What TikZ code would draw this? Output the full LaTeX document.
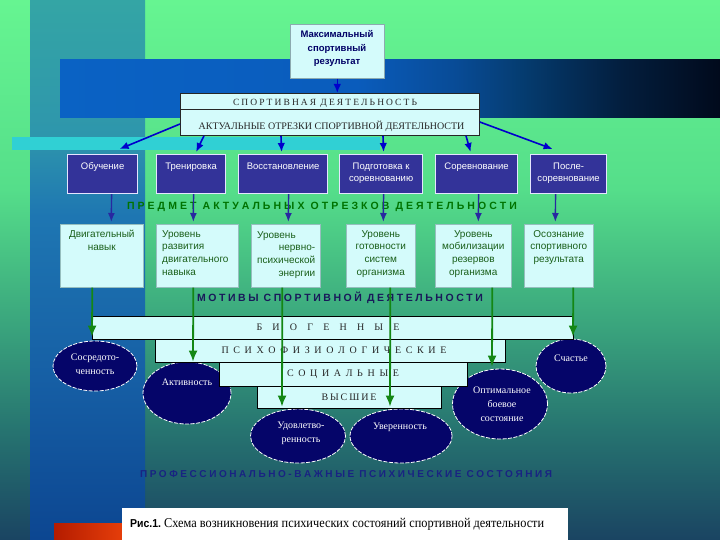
\documentclass[tikz,border=0pt]{standalone}
\usepackage{fontspec}
\usepackage{graphicx}
\setmainfont{Liberation Serif}
\newfontfamily\arial{Liberation Sans}
\usetikzlibrary{arrows.meta,shapes.geometric,calc}

\definecolor{bgA}{RGB}{102,245,145}
\definecolor{bgB}{RGB}{85,222,138}
\definecolor{bgC}{RGB}{58,165,125}
\definecolor{bgD}{RGB}{38,115,112}
\definecolor{bgE}{RGB}{26,68,98}
\definecolor{bnA}{RGB}{52,165,165}
\definecolor{bnB}{RGB}{46,150,172}
\definecolor{bnC}{RGB}{30,118,178}
\definecolor{bnD}{RGB}{22,95,165}
\definecolor{bnE}{RGB}{12,70,145}
\definecolor{brA}{RGB}{10,98,196}
\definecolor{brB}{RGB}{10,92,188}
\definecolor{brC}{RGB}{8,75,150}
\definecolor{brD}{RGB}{5,60,112}
\definecolor{brE}{RGB}{3,30,62}
\definecolor{brF}{RGB}{1,10,28}
\definecolor{cyanstrip}{RGB}{48,208,212}
\definecolor{lcyan}{RGB}{212,251,251}
\definecolor{bluebox}{RGB}{51,51,153}
\definecolor{navyell}{RGB}{5,5,105}
\definecolor{dgreen}{RGB}{25,95,25}
\definecolor{navytext}{RGB}{0,0,102}
\definecolor{arrblue}{RGB}{0,0,204}
\definecolor{arrnavy}{RGB}{40,40,160}
\definecolor{arrgreen}{RGB}{20,135,20}
\definecolor{grntext}{RGB}{0,115,0}
\definecolor{mottext}{RGB}{25,25,90}
\definecolor{proftext}{RGB}{25,35,130}
\definecolor{redA}{RGB}{180,28,0}
\definecolor{redB}{RGB}{230,62,10}

\pgfdeclareverticalshading{bgsh}{100bp}{color(0bp)=(bgE); color(25bp)=(bgE); color(35bp)=(bgD); color(45bp)=(bgC); color(57.5bp)=(bgB); color(75bp)=(bgA); color(100bp)=(bgA)}
\pgfdeclareverticalshading{bandsh}{100bp}{color(0bp)=(bnE); color(25bp)=(bnE); color(40bp)=(bnD); color(55bp)=(bnC); color(62.5bp)=(bnB); color(75bp)=(bnA); color(100bp)=(bnA)}
\pgfdeclarehorizontalshading{barsh}{100bp}{color(0bp)=(brA); color(25bp)=(brA); color(47.5bp)=(brB); color(55bp)=(brC); color(60bp)=(brD); color(67.5bp)=(brE); color(75bp)=(brF); color(100bp)=(brF)}

\tikzset{
  topbox/.style={draw={rgb,255:red,140;green,170;blue,175}, line width=0.6pt, fill=lcyan, inner sep=0pt, anchor=north west},
  bigbox/.style={draw=black!85, line width=0.8pt, fill=lcyan, inner sep=0pt, anchor=north west},
  bbox/.style={draw=white!90!blue, line width=1.2pt, fill=bluebox, inner sep=0pt, anchor=north west, minimum height=39pt},
  lbox/.style={draw={rgb,255:red,150;green,190;blue,190}, line width=0.6pt, fill=lcyan, inner sep=0pt, anchor=north west, minimum height=63pt},
  sbox/.style={draw=black, line width=0.8pt, fill=lcyan, inner sep=0pt, anchor=north west},
  ell/.style={ellipse, draw=white, dashed, dash pattern=on 4pt off 1.5pt, line width=0.8pt, fill=navyell, inner sep=0pt},
  toptext/.style={text=navytext, font=\arial\bfseries\fontsize{9.5}{13.5}\selectfont, align=center, inner sep=0pt},
  btext/.style={text=white, font=\arial\fontsize{9.5}{12.5}\selectfont, align=center, inner sep=0pt, anchor=north},
  ltext/.style={text=dgreen, font=\arial\fontsize{10}{12.7}\selectfont, align=center, inner sep=0pt, anchor=north},
  etext/.style={text=white, font=\fontsize{10}{14}\selectfont, align=center, inner sep=0pt},
  stext/.style={text=black!85, font=\fontsize{10}{11}\selectfont, inner sep=0pt},
  hdtext/.style={font=\arial\bfseries\fontsize{10.5}{12}\selectfont, inner sep=0pt},
  barrow/.style={draw=arrblue, line width=1.6pt, -{Latex[length=9pt,width=7.5pt]}},
  narrow/.style={draw=arrnavy, line width=1.4pt, -{Latex[length=9pt,width=7pt]}},
  garrow/.style={draw=arrgreen, line width=1.8pt, -{Latex[length=11pt,width=9pt]}}
}

\begin{document}
\begin{tikzpicture}[x=1pt,y=-1pt]
\useasboundingbox (0,0) rectangle (720,540);
% background
\shade[shading=bgsh] (0,0) rectangle (720,540);
\shade[shading=bandsh] (30,0) rectangle (145,540);
\shade[shading=barsh] (60,60) rectangle (720,118);
\fill[cyanstrip] (12,137) rectangle (380,150);
\shade[left color=redA, right color=redB] (54,523) rectangle (123,540);
\fill[white] (122,508) rectangle (568,540);
\node[anchor=base west, inner sep=0pt] (capt) at (130,527) {\resizebox{414pt}{\height}{{\arial\bfseries\fontsize{11.5}{13}\selectfont Рис.1.} {\fontsize{13.5}{15}\selectfont Схема возникновения психических состояний спортивной деятельности}}};

% top
\node[topbox, minimum width=94pt, minimum height=54pt] (res) at (290,24) {};
\node[toptext] (rest) at (337,48.5) {Максимальный\\спортивный\\результат};
\node[bigbox, minimum width=299pt, minimum height=42pt] (act) at (180,93) {};
\draw[black!85, line width=0.8pt] ($(act.north west)+(0,16)$) -- ($(act.north east)+(0,16)$);
\node[stext, font=\fontsize{9.5}{11}\selectfont] (actt1) at (325,103) {\makebox[184pt][s]{С П О Р Т И В Н А Я~ Д Е Я Т Е Л Ь Н О С Т Ь}};
\node[stext, font=\fontsize{10}{11}\selectfont] (actt2) at (331.5,126) {АКТУАЛЬНЫЕ ОТРЕЗКИ СПОРТИВНОЙ ДЕЯТЕЛЬНОСТИ};
\draw[barrow] (res.south) -- (res.south |- act.north);

% blue boxes
\node[bbox, minimum width=70pt] (b1) at (67,154) {};
\node[bbox, minimum width=69pt] (b2) at (156,154) {};
\node[bbox, minimum width=89pt] (b3) at (238,154) {};
\node[bbox, minimum width=83pt] (b4) at (339,154) {};
\node[bbox, minimum width=82pt] (b5) at (435,154) {};
\node[bbox, minimum width=76pt] (b6) at (530,154) {};
\node[btext] (b1t) at ($(b1.north)+(0,8.5)$) {Обучение};
\node[btext] (b2t) at ($(b2.north)+(0,8.5)$) {Тренировка};
\node[btext] (b3t) at ($(b3.north)+(0,8.5)$) {Восстановление};
\node[btext] (b4t) at ($(b4.north)+(0,8.5)$) {Подготовка к\\соревнованию};
\node[btext] (b5t) at ($(b5.north)+(0,8.5)$) {Соревнование};
\node[btext] (b6t) at ($(b6.north)+(0,8.5)$) {После-\\соревнование};

% arrows from activity box
\draw[barrow] ($(act.north west)+(0,31)$) -- ($(b1.north)+(17,-5)$);
\draw[barrow] ($(act.south west)+(24,0)$) -- ($(b2.north)+(5,-2)$);
\draw[barrow] ($(act.south west)+(101,0)$) -- ($(b3.north)+(-1.5,-2)$);
\draw[barrow] ($(act.south west)+(203,0)$) -- ($(b4.north)+(2.5,-2)$);
\draw[barrow] ($(act.south west)+(286,0)$) -- ($(b5.north)+(-6,-2)$);
\draw[barrow] ($(act.north east)+(0,29)$) -- ($(b6.north)+(-16,-5)$);

% subject label
\node[hdtext, text=grntext] (subj) at (322,207) {\makebox[390pt][s]{П Р Е Д М Е Т~ А К Т У А Л Ь Н Ы Х~ О Т Р Е З К О В~ Д Е Я Т Е Л Ь Н О С Т И}};

% light boxes
\node[lbox, minimum width=83pt] (l1) at (60,224) {};
\node[lbox, minimum width=82pt] (l2) at (156,224) {};
\node[lbox, minimum width=69pt] (l3) at (251,224) {};
\node[lbox, minimum width=69pt] (l4) at (346,224) {};
\node[lbox, minimum width=76pt] (l5) at (435,224) {};
\node[lbox, minimum width=69pt] (l6) at (524,224) {};
\node[ltext] (l1t) at ($(l1.north)+(0,6)$) {Двигательный\\навык};
\node[ltext, anchor=north west, align=left] (l2t) at (162,230) {Уровень\\развития\\двигательного\\навыка};
\node[ltext, anchor=north west] (l3t) at (257,229) {\begin{tabular}{@{}r@{}}\multicolumn{1}{@{}l@{}}{Уровень}\\нервно-\\психической\\энергии\end{tabular}};
\node[ltext] (l4t) at ($(l4.north)+(0,6)$) {Уровень\\готовности\\систем\\организма};
\node[ltext] (l5t) at ($(l5.north)+(0,6)$) {Уровень\\мобилизации\\резервов\\организма};
\node[ltext] (l6t) at ($(l6.north)+(0,6)$) {Осознание\\спортивного\\результата};

% blue box -> light box arrows
\draw[narrow] ($(b1.south)+(9,0)$) -- ($(l1.north)+(9.5,-2)$);
\draw[narrow] ($(b2.south)+(2.5,0)$) -- ($(l2.north)+(-4,-2)$);
\draw[narrow] ($(b3.south)+(5.5,0)$) -- ($(l3.north)+(2.5,-2)$);
\draw[narrow] ($(b4.south)+(2.5,0)$) -- ($(l4.north)+(2.5,-2)$);
\draw[narrow] ($(b5.south)+(2,0)$) -- ($(l5.north)+(5,-2)$);
\draw[narrow] ($(b6.south)+(-13,0)$) -- ($(l6.north)+(-3.5,-2)$);

% motives label
\node[hdtext, text=mottext] (mot) at (340,298) {\makebox[286pt][s]{М О Т И В Ы~ С П О Р Т И В Н О Й~ Д Е Я Т Е Л Ь Н О С Т И}};

% ellipses
\node[ell, minimum width=84pt, minimum height=50pt] (e1) at (95,366) {};
\node[ell, minimum width=88pt, minimum height=62pt] (e2) at (187,393) {};
\node[ell, minimum width=95pt, minimum height=54pt] (e3) at (298,436) {};
\node[ell, minimum width=102pt, minimum height=54pt] (e4) at (401,436) {};
\node[ell, minimum width=95pt, minimum height=70pt] (e5) at (500,404) {};
\node[ell, minimum width=70pt, minimum height=54pt] (e6) at (571,366) {};
\node[etext] (e1t) at (95,364) {Сосредото-\\ченность};
\node[etext] (e2t) at (187,382) {Активность};
\node[etext] (e3t) at (301,433.5) {Удовлетво-\\ренность};
\node[etext] (e4t) at (400,427) {Уверенность};
\node[etext] (e5t) at (502,404) {Оптимальное\\боевое\\состояние};
\node[etext] (e6t) at (571,358) {Счастье};

% stacked motive boxes
\node[sbox, minimum width=481pt, minimum height=23pt] (s1) at (92,316) {};
\node[sbox, minimum width=350pt, minimum height=23pt] (s2) at (155,339) {};
\node[sbox, minimum width=248pt, minimum height=24pt] (s3) at (219,362) {};
\node[sbox, minimum width=184pt, minimum height=22pt] (s4) at (257,386) {};
\node[stext] (s1t) at (328,327) {\makebox[143pt][s]{Б И О Г Е Н Н Ы Е}};
\node[stext] (s2t) at (334,350) {\makebox[225pt][s]{П С И Х О Ф И З И О Л О Г И Ч Е С К И Е}};
\node[stext] (s3t) at (343,374) {\makebox[112pt][s]{С О Ц И А Л Ь Н Ы Е}};
\node[stext] (s4t) at (349,397) {\makebox[55pt][s]{В Ы С Ш И Е}};

% green arrows
\draw[garrow] ($(l1.south)+(-9.5,0)$) -- ($(e1.north)+(-3,-4)$);
\draw[garrow] ($(l2.south)+(-4,0)$) -- ($(e2.north)+(6,0)$);
\draw[garrow] ($(l3.south)+(-3.5,0)$) -- ($(e3.north)+(-16,-2)$);
\draw[garrow] ($(l4.south)+(9.5,0)$) -- ($(e4.north)+(-11,-2)$);
\draw[garrow] ($(l5.south)+(19,0)$) -- ($(e5.north)+(-8,-2)$);
\draw[garrow] ($(l6.south)+(14.5,0)$) -- ($(e6.north)+(2,-2)$);

% states label
\node[hdtext, text=proftext, font=\arial\bfseries\fontsize{10}{12}\selectfont] (prof) at (346,474) {\makebox[412pt][s]{П Р О Ф Е С С И О Н А Л Ь Н О - В А Ж Н Ы Е~ П С И Х И Ч Е С К И Е~ С О С Т О Я Н И Я}};
\end{tikzpicture}
\end{document}
